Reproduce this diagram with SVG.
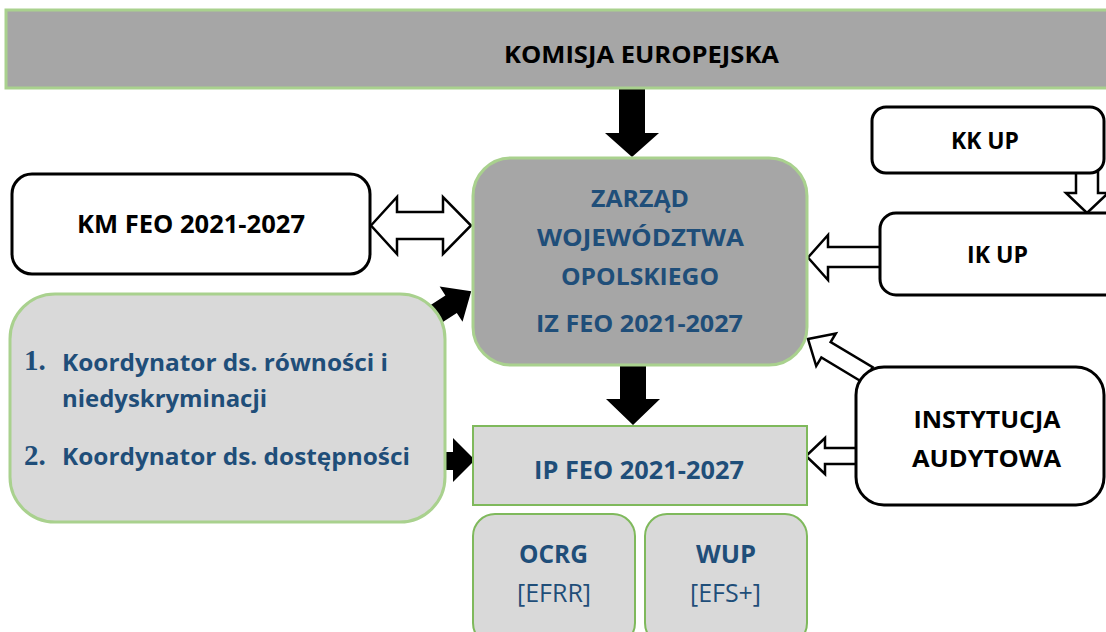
<svg xmlns="http://www.w3.org/2000/svg" width="1106" height="632" viewBox="0 0 1106 632">
<style>
.t{font-family:"Open Sans","Noto Sans","Liberation Sans",sans-serif;font-weight:700;text-anchor:middle}
.blk{fill:#000}
.blue{fill:#1f4e79}
.reg{font-weight:400}
.num{font-family:"Liberation Serif","DejaVu Serif",serif;font-weight:700;fill:#1f4e79}
.wbox{fill:#fff;stroke:#000;stroke-width:3}
.gdark{fill:#a6a6a6;stroke:#a9d18e;stroke-width:3}
.glight{fill:#d9d9d9;stroke:#a9d18e;stroke-width:3}
.gmid{fill:#d9d9d9;stroke:#7fb95c;stroke-width:2}
.solid{fill:#000;stroke:none}
.hollow{fill:#fff;stroke:#000;stroke-width:2.5;stroke-linejoin:miter}
</style>
<rect width="1106" height="632" fill="#fff"/>
<g id="connectors">
  <polygon class="solid" points="619,86 645,86 645,133 659,133 632,157 605,133 619,133"/>
  <polygon class="solid" points="620,363 646,363 646,399 660,399 633,425 606,399 620,399"/>
  <polygon class="solid" transform="translate(436,314) rotate(-33)" points="0,-10.5 18,-10.5 18,-21 42,0 18,21 18,10.5 0,10.5"/>
  <polygon class="solid" points="443,452 453,452 453,438 475,460 453,482 453,470 443,470"/>
  <polygon class="hollow" points="371,225.5 397,197 397,212 443,212 443,197 471,225.5 443,254 443,239 397,239 397,254"/>
  <polygon class="hollow" points="882,247 828,247 828,235 808,257.5 828,280 828,267 882,267"/>
  <polygon class="hollow" points="858,448 825,448 825,438 806,456 825,474 825,464 858,464"/>
  <polygon class="hollow" points="1076,171 1098,171 1098,193 1108,193 1087,213 1066,193 1076,193"/>
  <polygon class="hollow" transform="translate(868,375) rotate(-149)" points="0,-9 49,-9 49,-19 70,0 49,19 49,9 0,9"/>
</g>
<g id="komisja">
  <rect class="gdark" x="6" y="10" width="1110" height="78"/>
  <text class="t blk" x="641.5" y="63" font-size="23" textLength="275" lengthAdjust="spacingAndGlyphs">KOMISJA EUROPEJSKA</text>
</g>
<g id="kkup">
  <rect class="wbox" x="872" y="107" width="232" height="66" rx="14"/>
  <text class="t blk" x="985" y="149" font-size="23" textLength="68" lengthAdjust="spacingAndGlyphs">KK UP</text>
</g>
<g id="ikup">
  <rect class="wbox" x="880" y="213" width="240" height="82" rx="16"/>
  <text class="t blk" x="997.5" y="263" font-size="23" textLength="61" lengthAdjust="spacingAndGlyphs">IK UP</text>
</g>
<g id="km">
  <rect class="wbox" x="12" y="174" width="358" height="100" rx="20"/>
  <text class="t blk" x="191" y="233" font-size="25" textLength="228" lengthAdjust="spacingAndGlyphs">KM FEO 2021-2027</text>
</g>
<g id="zarzad">
  <rect class="gdark" x="473" y="158" width="334" height="207" rx="38"/>
  <text class="t blue" x="640" y="207" font-size="23" textLength="98" lengthAdjust="spacingAndGlyphs">ZARZĄD</text>
  <text class="t blue" x="640.5" y="246" font-size="23" textLength="207" lengthAdjust="spacingAndGlyphs">WOJEWÓDZTWA</text>
  <text class="t blue" x="640" y="285" font-size="23" textLength="158" lengthAdjust="spacingAndGlyphs">OPOLSKIEGO</text>
  <text class="t blue" x="639.5" y="332" font-size="23" textLength="207" lengthAdjust="spacingAndGlyphs">IZ FEO 2021-2027</text>
</g>
<g id="koordynatorzy">
  <rect class="glight" x="10" y="294" width="435" height="228" rx="45"/>
  <text class="num" x="24" y="370" font-size="29">1.</text>
  <text class="t blue" style="text-anchor:start" x="62" y="371" font-size="23.5" textLength="326" lengthAdjust="spacingAndGlyphs">Koordynator ds. równości i</text>
  <text class="t blue" style="text-anchor:start" x="62" y="407" font-size="23.5" textLength="205" lengthAdjust="spacingAndGlyphs">niedyskryminacji</text>
  <text class="num" x="24" y="465" font-size="29">2.</text>
  <text class="t blue" style="text-anchor:start" x="62" y="465" font-size="23.5" textLength="348" lengthAdjust="spacingAndGlyphs">Koordynator ds. dostępności</text>
</g>
<g id="ip">
  <rect class="gmid" x="473" y="426" width="334" height="79"/>
  <text class="t blue" x="639" y="479" font-size="24.5" textLength="210" lengthAdjust="spacingAndGlyphs">IP FEO 2021-2027</text>
</g>
<g id="ocrg">
  <rect class="gmid" x="473" y="514" width="162" height="131" rx="22"/>
  <text class="t blue" x="553.5" y="563" font-size="25" textLength="69" lengthAdjust="spacingAndGlyphs">OCRG</text>
  <text class="t blue reg" x="554" y="602" font-size="25" textLength="74" lengthAdjust="spacingAndGlyphs">[EFRR]</text>
</g>
<g id="wup">
  <rect class="gmid" x="645" y="514" width="162" height="131" rx="22"/>
  <text class="t blue" x="726" y="563" font-size="25" textLength="60" lengthAdjust="spacingAndGlyphs">WUP</text>
  <text class="t blue reg" x="725.5" y="602" font-size="25" textLength="71" lengthAdjust="spacingAndGlyphs">[EFS+]</text>
</g>
<g id="instytucja">
  <rect class="wbox" x="856" y="367" width="248" height="138" rx="28"/>
  <text class="t blk" x="987" y="428" font-size="23.5" textLength="147" lengthAdjust="spacingAndGlyphs">INSTYTUCJA</text>
  <text class="t blk" x="986.5" y="467" font-size="23.5" textLength="149" lengthAdjust="spacingAndGlyphs">AUDYTOWA</text>
</g>
</svg>
